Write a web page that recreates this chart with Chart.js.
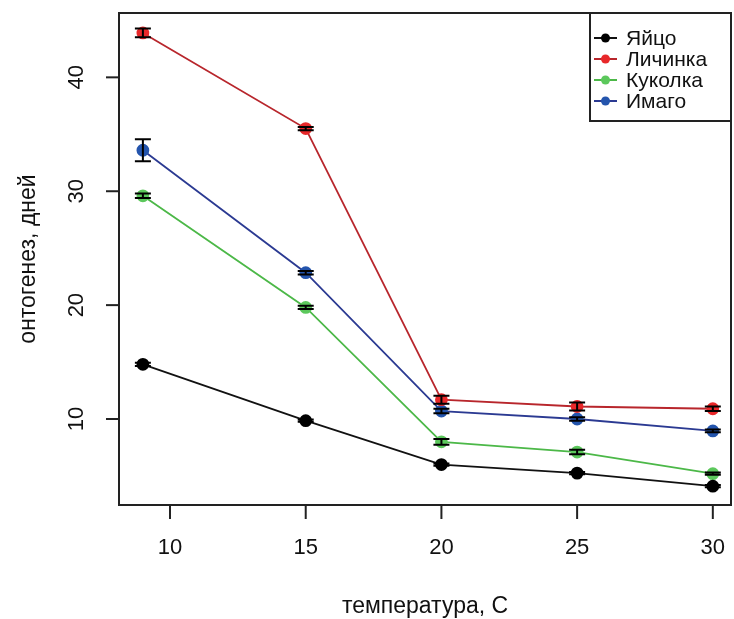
<!DOCTYPE html>
<html lang="ru">
<head>
    <meta charset="UTF-8">
    <title>Онтогенез и температура</title>
    <style>
        body { margin: 0; background: #fff; }
        canvas { display: block; }
    </style>
    <script src="https://cdn.jsdelivr.net/npm/chart.js"></script>
</head>
<body>
<canvas id="ontoChart" width="734" height="619"></canvas>
<script>
    // temperatures (x) and the tick labels of both axes
    const temps = [9, 15, 20, 25, 30];
    const xTicks = [10, 15, 20, 25, 30];
    const yTicks = [10, 20, 30, 40];

    // stage names, development time in days and error half-widths
    const stages = ['Яйцо', 'Личинка', 'Куколка', 'Имаго'];
    const eggDays = [14.8, 9.85, 6.0, 5.25, 4.1];
    const larvaDays = [43.9, 35.5, 11.7, 11.1, 10.9];
    const pupaDays = [29.6, 19.8, 8.0, 7.1, 5.2];
    const imagoDays = [33.6, 22.85, 10.7, 10.0, 8.95];
    const eggErr = [0.15, 0.1, 0.1, 0.1, 0.1];
    const larvaErr = [0.38, 0.15, 0.35, 0.35, 0.2];
    const pupaErr = [0.2, 0.15, 0.25, 0.2, 0.1];
    const imagoErr = [0.96, 0.15, 0.2, 0.15, 0.12];

    const lineColors = ['#111111', '#b8262c', '#4cb848', '#2b3a92'];
    const pointColors = ['#000000', '#e8282a', '#5cc85c', '#2455ad'];
    const seriesDays = [eggDays, larvaDays, pupaDays, imagoDays];
    const seriesErr = [eggErr, larvaErr, pupaErr, imagoErr];

    const FONT = '"Liberation Sans", Arial, sans-serif';
    const TEXT = '#111';

    // error bars with black caps, like arrows(..., angle=90, code=3) in R
    const errorBarPlugin = {
        id: 'errorBarPlugin',
        afterDatasetsDraw(chart) {
            const ctx = chart.ctx;
            const xs = chart.scales.x, ys = chart.scales.y;
            ctx.save();
            ctx.strokeStyle = '#000';
            ctx.lineWidth = 2;
            seriesDays.forEach((days, s) => {
                days.forEach((v, i) => {
                    const px = xs.getPixelForValue(temps[i]);
                    const top = ys.getPixelForValue(v + seriesErr[s][i]);
                    const bot = ys.getPixelForValue(v - seriesErr[s][i]);
                    ctx.beginPath();
                    ctx.moveTo(px, top); ctx.lineTo(px, bot);
                    ctx.moveTo(px - 8, top); ctx.lineTo(px + 8, top);
                    ctx.moveTo(px - 8, bot); ctx.lineTo(px + 8, bot);
                    ctx.stroke();
                });
            });
            ctx.restore();
        }
    };

    // R-style frame, outward ticks, rotated y labels, titles and legend
    const baseAxesPlugin = {
        id: 'baseAxesPlugin',
        afterDraw(chart) {
            const ctx = chart.ctx;
            const a = chart.chartArea;
            const xs = chart.scales.x, ys = chart.scales.y;
            ctx.save();
            ctx.strokeStyle = '#222';
            ctx.lineWidth = 2;
            ctx.strokeRect(a.left, a.top, a.right - a.left, a.bottom - a.top);

            ctx.fillStyle = TEXT;
            ctx.font = '22px ' + FONT;
            ctx.textAlign = 'center';
            ctx.textBaseline = 'middle';

            xTicks.forEach(t => {
                const px = xs.getPixelForValue(t);
                ctx.beginPath();
                ctx.moveTo(px, a.bottom); ctx.lineTo(px, a.bottom + 14);
                ctx.stroke();
                ctx.fillText(String(t), px, a.bottom + 43);
            });

            yTicks.forEach(t => {
                const py = ys.getPixelForValue(t);
                ctx.beginPath();
                ctx.moveTo(a.left, py); ctx.lineTo(a.left - 13, py);
                ctx.stroke();
                ctx.save();
                ctx.translate(a.left - 42, py);
                ctx.rotate(-Math.PI / 2);
                ctx.fillText(String(t), 0, 0);
                ctx.restore();
            });

            // axis titles
            ctx.font = '23px ' + FONT;
            ctx.fillText('температура, С', (a.left + a.right) / 2, a.bottom + 102);
            ctx.save();
            ctx.translate(29, (a.top + a.bottom) / 2);
            ctx.rotate(-Math.PI / 2);
            ctx.fillText('онтогенез, дней', 0, 0);
            ctx.restore();

            // legend box in the top right corner
            const lx = 590, ly = a.top, lw = a.right - lx, lh = 108;
            ctx.fillStyle = '#fff';
            ctx.fillRect(lx, ly, lw, lh);
            ctx.strokeRect(lx, ly, lw, lh);
            ctx.font = '21px ' + FONT;
            ctx.textAlign = 'left';
            chart.data.datasets.forEach((ds, i) => {
                const yy = ly + 25 + i * 21;
                ctx.strokeStyle = ds.borderColor;
                ctx.lineWidth = 2;
                ctx.beginPath();
                ctx.moveTo(594, yy); ctx.lineTo(617, yy);
                ctx.stroke();
                ctx.fillStyle = ds.pointBackgroundColor;
                ctx.beginPath();
                ctx.arc(605.5, yy, 4.5, 0, Math.PI * 2);
                ctx.fill();
                ctx.fillStyle = TEXT;
                ctx.fillText(ds.label, 626, yy + 1);
            });
            ctx.restore();
        }
    };

    const datasets = stages.map((name, s) => ({
        label: name,
        data: temps.map((t, i) => ({ x: t, y: seriesDays[s][i] })),
        borderColor: lineColors[s],
        backgroundColor: pointColors[s],
        pointBackgroundColor: pointColors[s],
        pointBorderColor: pointColors[s],
        pointRadius: 5.5,
        borderWidth: 1.8,
        tension: 0
    }));

    new Chart(document.getElementById('ontoChart').getContext('2d'), {
        type: 'line',
        data: { datasets: datasets },
        options: {
            responsive: false,
            animation: false,
            events: [],
            layout: { autoPadding: false, padding: { left: 119, top: 13, right: 3, bottom: 114 } },
            plugins: {
                legend: { display: false },
                tooltip: { enabled: false }
            },
            scales: {
                x: {
                    type: 'linear',
                    display: false,
                    min: 8.12,
                    max: 30.67
                },
                y: {
                    type: 'linear',
                    display: false,
                    min: 2.45,
                    max: 45.65
                }
            }
        },
        plugins: [errorBarPlugin, baseAxesPlugin]
    });
</script>
</body>
</html>
